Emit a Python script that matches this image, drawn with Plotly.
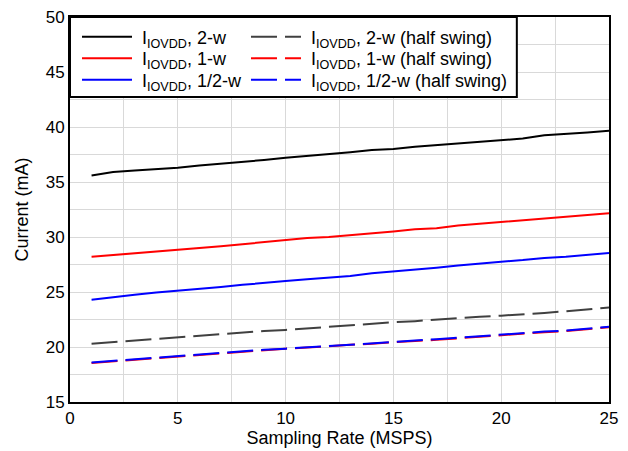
import plotly.graph_objects as go

x = list(range(1, 26))
i_2w = [35.6, 35.9, 36.05, 36.15, 36.3, 36.5, 36.65, 36.85, 37.0, 37.2, 37.35, 37.5, 37.7, 37.9, 38.0,
        38.2, 38.35, 38.55, 38.7, 38.85, 38.95, 39.25, 39.35, 39.5, 39.65]
i_1w = [28.2, 28.35, 28.5, 28.65, 28.85, 29.0, 29.15, 29.35, 29.55, 29.7, 29.9, 30.0, 30.15, 30.35, 30.5,
        30.7, 30.8, 31.05, 31.2, 31.4, 31.55, 31.7, 31.8, 32.0, 32.15]
i_hw = [24.3, 24.55, 24.75, 24.95, 25.1, 25.3, 25.45, 25.65, 25.85, 26.0, 26.15, 26.3, 26.45, 26.7, 26.85,
        27.0, 27.2, 27.4, 27.6, 27.75, 27.9, 28.1, 28.2, 28.4, 28.55]
i_2w_hs = [20.3, 20.45, 20.55, 20.7, 20.85, 21.0, 21.15, 21.3, 21.45, 21.55, 21.7, 21.85, 21.95, 22.1, 22.25,
           22.35, 22.5, 22.6, 22.75, 22.85, 22.95, 23.1, 23.25, 23.4, 23.6]
i_1w_hs = [18.55, 18.7, 18.85, 19.0, 19.1, 19.25, 19.4, 19.55, 19.7, 19.85, 19.95, 20.1, 20.2, 20.3, 20.45,
           20.55, 20.65, 20.8, 20.95, 21.05, 21.2, 21.35, 21.45, 21.6, 21.8]
i_hw_hs = [18.6, 18.75, 18.9, 19.0, 19.15, 19.3, 19.45, 19.6, 19.75, 19.85, 20.0, 20.1, 20.2, 20.35, 20.5,
           20.6, 20.7, 20.85, 21.0, 21.1, 21.25, 21.4, 21.5, 21.65, 21.85]

names = ["I<sub>IOVDD</sub>, 2-w", "I<sub>IOVDD</sub>, 1-w", "I<sub>IOVDD</sub>, 1/2-w",
         "I<sub>IOVDD</sub>, 2-w (half swing)", "I<sub>IOVDD</sub>, 1-w (half swing)",
         "I<sub>IOVDD</sub>, 1/2-w (half swing)"]
series = [i_2w, i_1w, i_hw, i_2w_hs, i_1w_hs, i_hw_hs]
colors = ["#000000", "#ff0000", "#0000ff", "#404040", "#ff0000", "#0000ff"]
dashes = ["solid", "solid", "solid", "26px,8px", "26px,8px", "26px,8px"]

# legend placement (paper coords): one single-entry legend per item
leg_x = [0.013, 0.013, 0.013, 0.3265, 0.3265, 0.3265]
leg_y = [0.948, 0.892, 0.836, 0.948, 0.892, 0.836]

fig = go.Figure()
legend_layout = {}
for k, (n, s, c, d) in enumerate(zip(names, series, colors, dashes)):
    key = "legend" if k == 0 else f"legend{k + 1}"
    fig.add_trace(go.Scatter(x=x, y=s, mode="lines", name="\u00a0" + n, legend=key,
                             line=dict(color=c, width=2, dash=d)))
    legend_layout[key] = dict(orientation="v", yanchor="middle", xanchor="left",
                              x=leg_x[k], y=leg_y[k],
                              bgcolor="rgba(0,0,0,0)", borderwidth=0,
                              font=dict(size=18), itemwidth=50, tracegroupgap=0)

fig.update_layout(
    width=620, height=443,
    margin=dict(l=62, r=19, t=9, b=49),
    paper_bgcolor="white", plot_bgcolor="white",
    font=dict(family="Liberation Sans, Arial, sans-serif", size=15, color="black"),
    showlegend=True,
    shapes=[dict(type="rect", xref="paper", yref="paper", x0=0, x1=0.829, y0=0.792, y1=1,
                 line=dict(color="black", width=2), fillcolor="white", layer="above")],
    **legend_layout,
)
fig.update_xaxes(range=[0, 25], tickvals=[0, 5, 10, 15, 20, 25],
                 showline=True, linecolor="black", linewidth=2, mirror=True,
                 showgrid=True, gridcolor="#d9d9d9", gridwidth=1,
                 minor=dict(dtick=2.5, showgrid=True, gridcolor="#d9d9d9", gridwidth=1),
                 ticks="", zeroline=False, automargin=False, ticklabeloverflow="allow",
                 title=dict(text="Sampling Rate (MSPS)", standoff=2),
                 tickfont=dict(size=17))
fig.update_yaxes(range=[15, 50], tickvals=[15, 20, 25, 30, 35, 40, 45, 50],
                 showline=True, linecolor="black", linewidth=2, mirror=True,
                 showgrid=True, gridcolor="#d9d9d9", gridwidth=1,
                 minor=dict(dtick=2.5, showgrid=True, gridcolor="#d9d9d9", gridwidth=1),
                 ticks="", zeroline=False, automargin=False, ticklabeloverflow="allow",
                 title=dict(text="Current (mA)", standoff=12),
                 tickfont=dict(size=17))

fig.write_html("out.html")
